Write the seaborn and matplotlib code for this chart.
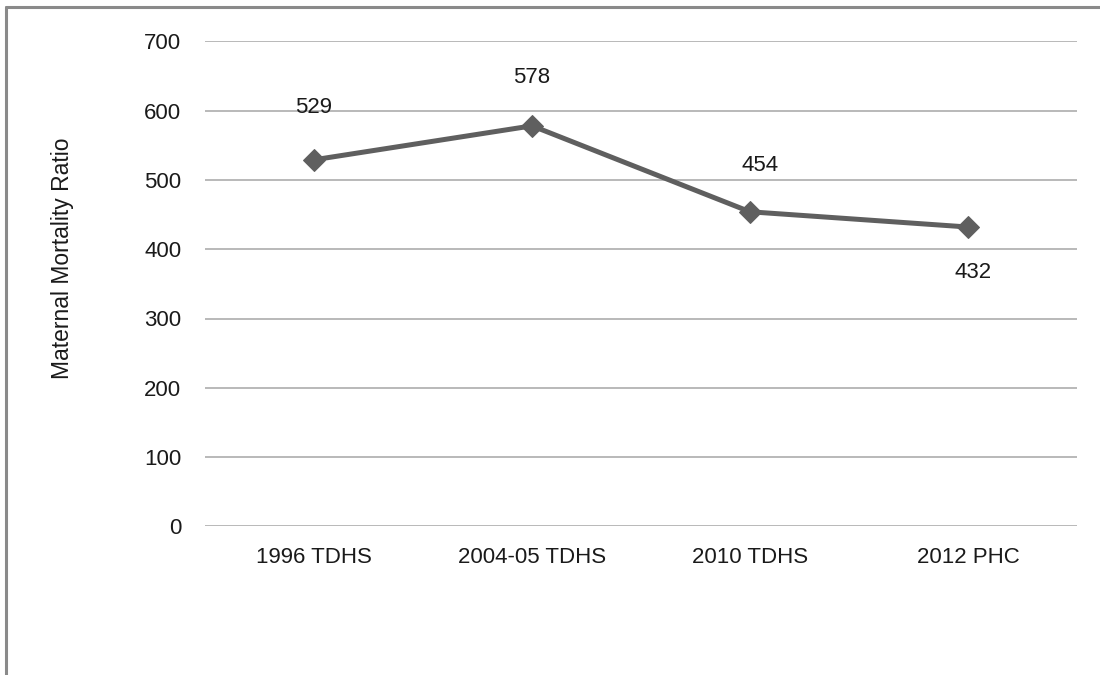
import matplotlib
matplotlib.use("Agg")
import matplotlib.pyplot as plt
from matplotlib.lines import Line2D
import seaborn as sns
import pandas as pd

# Survey sources and maternal mortality ratio (deaths per 100,000 live births)
surveys = ["1996 TDHS", "2004-05 TDHS", "2010 TDHS", "2012 PHC"]
mmr = [529, 578, 454, 432]
y_ticks = [0, 100, 200, 300, 400, 500, 600, 700]
y_label = "Maternal Mortality Ratio"

sns.set_theme(style="white")
plt.rcParams["font.family"] = ["Liberation Sans", "DejaVu Sans"]

df = pd.DataFrame({"survey": surveys, "mmr": mmr})

fig = plt.figure(figsize=(11, 6.75), dpi=100)
ax = fig.add_axes([205 / 1100, 1 - 526.4 / 675, 872 / 1100, (526.4 - 41.3) / 675])

line_color = "#5f5f5f"
text_color = "#1a1a1a"

ax.set_ylim(0, 700)
ax.set_xlim(-0.5, len(surveys) - 0.5)
ax.set_yticks(y_ticks)
ax.yaxis.grid(True, color="#a6a6a6", linewidth=1.1)
ax.xaxis.grid(False)
ax.set_axisbelow(True)

sns.lineplot(data=df, x="survey", y="mmr", ax=ax, sort=False,
             color=line_color, linewidth=3.6, marker="D", markersize=11,
             markeredgecolor=line_color, markerfacecolor=line_color,
             zorder=3)

for s in ax.spines.values():
    s.set_visible(False)

ax.tick_params(axis="both", length=0, labelsize=16, colors=text_color)
ax.tick_params(axis="y", pad=17)
ax.tick_params(axis="x", pad=15)
ax.set_xlabel("")
ax.set_ylabel("")

# Value labels: above the points, except the last one which sits below
offsets = [(0, 38), (0, 35), (7, 33), (4, -33)]
for i, (v, off) in enumerate(zip(mmr, offsets)):
    ax.annotate(str(v), xy=(i, v), xytext=off, textcoords="offset points",
                ha="center", va="center", fontsize=16, color=text_color)

fig.text(62 / 1100, 1 - 258 / 675, y_label, rotation=90, ha="center",
         va="center", fontsize=16.5, color=text_color)

# Chart frame (top and left edges)
frame_kw = dict(color="#8a8a8a", linewidth=2.2, transform=fig.transFigure)
fig.add_artist(Line2D([6 / 1100, 1.0], [1 - 7 / 675, 1 - 7 / 675], **frame_kw))
fig.add_artist(Line2D([6 / 1100, 6 / 1100], [0.0, 1 - 7 / 675], **frame_kw))

fig.savefig("out.png", dpi=100, facecolor="white")
